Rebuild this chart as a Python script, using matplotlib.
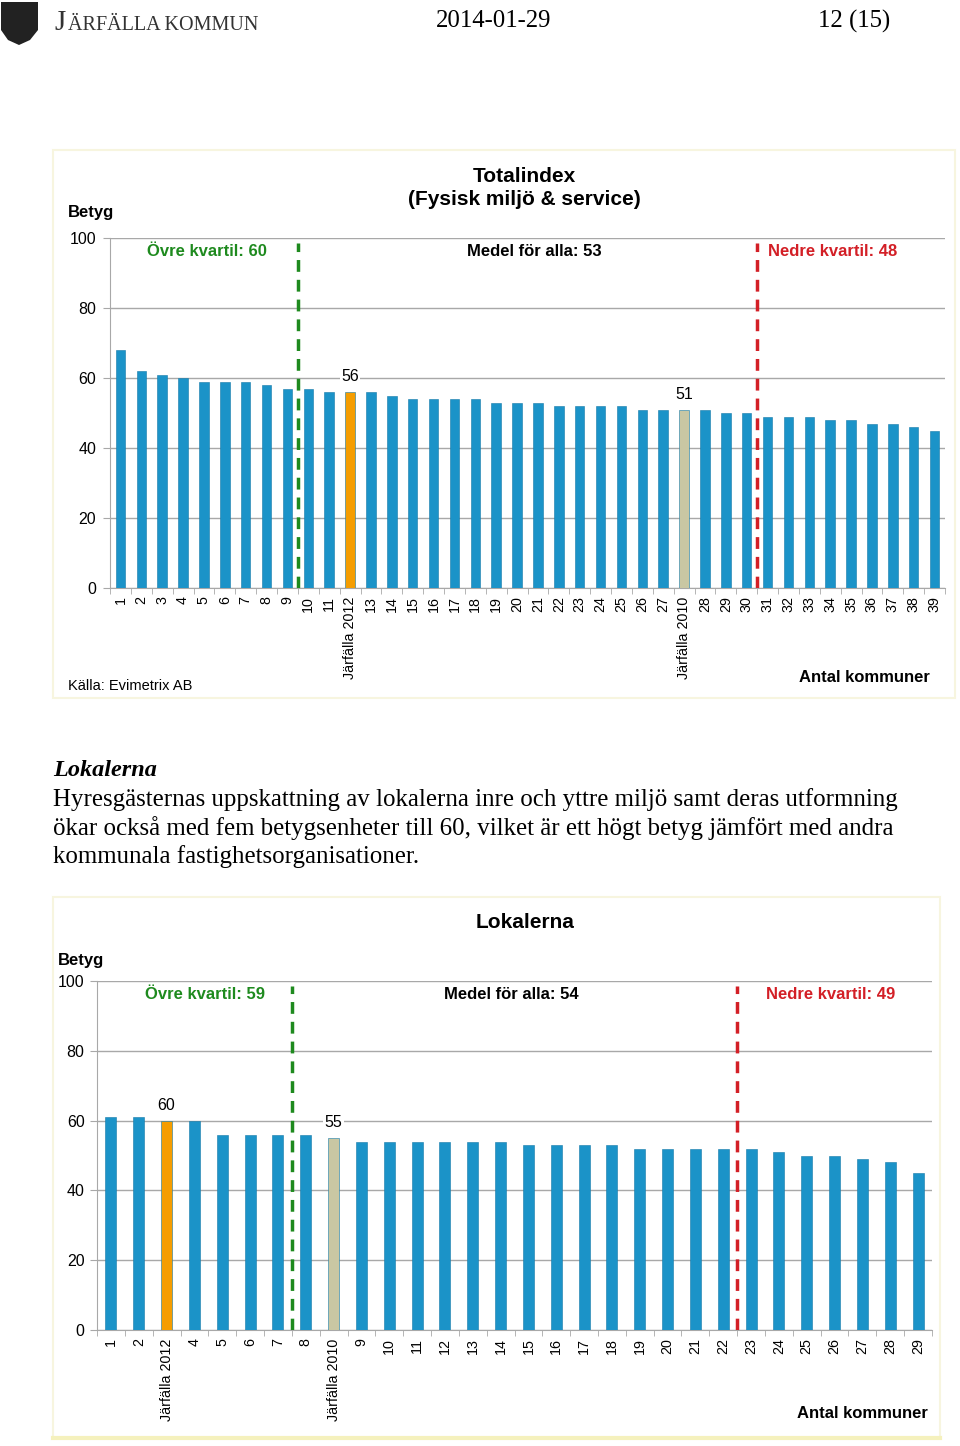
import numpy as np
import matplotlib
matplotlib.use('Agg')
import matplotlib.pyplot as plt
from matplotlib.patches import Rectangle, Polygon

plt.rcParams['font.family'] = ['Liberation Sans', 'DejaVu Sans']

# chart 1: Totalindex
cats1 = ['1', '2', '3', '4', '5', '6', '7', '8', '9', '10', '11', 'Järfälla 2012',
         '13', '14', '15', '16', '17', '18', '19', '20', '21', '22', '23', '24', '25',
         '26', '27', 'Järfälla 2010', '28', '29', '30', '31', '32', '33', '34', '35',
         '36', '37', '38', '39']
vals1 = [68, 62, 61, 60, 59, 59, 59, 58, 57, 57, 56, 56,
         56, 55, 54, 54, 54, 54, 53, 53, 53, 52, 52, 52, 52,
         51, 51, 51, 51, 50, 50, 49, 49, 49, 48, 48,
         47, 47, 46, 45]
quart1 = {'upper': 60, 'mean': 53, 'lower': 48}
split1 = ('9', '30')  # quartile lines drawn after these categories

# chart 2: Lokalerna
cats2 = ['1', '2', 'Järfälla 2012', '4', '5', '6', '7', '8', 'Järfälla 2010', '9',
         '10', '11', '12', '13', '14', '15', '16', '17', '18', '19', '20', '21', '22',
         '23', '24', '25', '26', '27', '28', '29']
vals2 = [61, 61, 60, 60, 56, 56, 56, 56, 55, 54,
         54, 54, 54, 54, 54, 53, 53, 53, 53, 52, 52, 52, 52,
         52, 51, 50, 50, 49, 48, 45]
quart2 = {'upper': 59, 'mean': 54, 'lower': 49}
split2 = ('7', '22')

BLUE = '#1b93c8'
ORANGE = '#f59d00'
KHAKI = '#c9c7a3'
GREEN = '#1e8a1e'
RED = '#d31f26'
GRID = '#a8a8a8'

W, H = 960, 1446
fig = plt.figure(figsize=(W / 100, H / 100), dpi=100)


def fx(px):
    return px / W


def fy(py):
    return 1 - py / H


def draw_chart(rect, cats, vals, quart, split, barw, lab_x, ypad):
    ax = fig.add_axes(rect)
    x = np.arange(len(cats))
    colors = []
    for c in cats:
        if c == 'Järfälla 2012':
            colors.append(ORANGE)
        elif c == 'Järfälla 2010':
            colors.append(KHAKI)
        else:
            colors.append(BLUE)
    ax.bar(x, vals, width=barw, color=colors, edgecolor='#157aa8', linewidth=0.4, zorder=3)
    ax.set_xlim(-0.5, len(cats) - 0.5)
    ax.set_ylim(0, 100)
    ax.set_yticks(range(0, 101, 20))
    ax.grid(axis='y', color=GRID, linewidth=1, zorder=0)
    for s in ['top', 'right']:
        ax.spines[s].set_visible(False)
    ax.spines['left'].set_color(GRID)
    ax.spines['bottom'].set_color(GRID)
    ax.tick_params(axis='y', length=5, color=GRID, labelsize=11.5, pad=ypad)
    ax.set_xticks(x)
    ax.set_xticklabels(cats, rotation=90, fontsize=10.3)
    ax.set_xticks(np.arange(-0.5, len(cats), 1), minor=True)
    ax.tick_params(axis='x', which='major', length=0, pad=6)
    ax.tick_params(axis='x', which='minor', length=4, color=GRID)

    # value labels on the Järfälla bars
    for c, v, xi in zip(cats, vals, x):
        if c.startswith('Järfälla'):
            ax.annotate(str(v), (xi, v), xytext=(0, 11), textcoords='offset points',
                        ha='center', va='center', fontsize=11.5,
                        bbox=dict(facecolor='white', edgecolor='none', pad=1), zorder=4)

    g = cats.index(split[0]) + 0.5
    r = cats.index(split[1]) + 0.5
    ax.plot([g, g], [0, 98.5], color=GREEN, lw=2.5, dashes=(3.4, 2.3), zorder=5)
    ax.plot([r, r], [0, 98.5], color=RED, lw=2.5, dashes=(3.4, 2.3), zorder=5)

    ax.text(lab_x[0], 0.96, 'Övre kvartil: %d' % quart['upper'], transform=ax.transAxes,
            color=GREEN, fontsize=12, fontweight='bold', va='center', ha='left')
    ax.text(lab_x[1], 0.96, 'Medel för alla: %d' % quart['mean'], transform=ax.transAxes,
            color='black', fontsize=12, fontweight='bold', va='center', ha='left')
    ax.text(lab_x[2], 0.96, 'Nedre kvartil: %d' % quart['lower'], transform=ax.transAxes,
            color=RED, fontsize=12, fontweight='bold', va='center', ha='left')
    return ax


# chart frames
fig.add_artist(Rectangle((fx(53), fy(698)), fx(955) - fx(53), fy(150) - fy(698),
                         transform=fig.transFigure, fill=False, edgecolor='#f7f5df', lw=1.5))
fig.add_artist(Rectangle((fx(53), fy(1438)), fx(940) - fx(53), fy(897) - fy(1438),
                         transform=fig.transFigure, fill=False, edgecolor='#f7f5df', lw=1.5))
fig.add_artist(plt.Line2D([fx(53), fx(940)], [fy(1438), fy(1438)], transform=fig.transFigure,
                          color='#f5f1bd', lw=3))

draw_chart([fx(110), fy(588), 835 / W, 350 / H], cats1, vals1, quart1, split1, 0.46,
           (0.044, 0.4275, 0.788), 5)
draw_chart([fx(97), fy(1330), 835 / W, 349 / H], cats2, vals2, quart2, split2, 0.4,
           (0.0575, 0.4156, 0.801), 4)

# chart 1 texts
fig.text(fx(524), fy(188), 'Totalindex\n(Fysisk miljö & service)', ha='center', va='center',
         fontsize=15, fontweight='bold', linespacing=1.3)
fig.text(fx(68), fy(212), 'Betyg', fontsize=12, fontweight='bold', va='center')
fig.text(fx(68), fy(686), 'Källa: Evimetrix AB', fontsize=10.5, va='center')
fig.text(fx(930), fy(678), 'Antal kommuner', fontsize=12, fontweight='bold', va='center', ha='right')

# chart 2 texts
fig.text(fx(525), fy(923), 'Lokalerna', ha='center', va='center', fontsize=15, fontweight='bold')
fig.text(fx(58), fy(961), 'Betyg', fontsize=12, fontweight='bold', va='center')
fig.text(fx(928), fy(1414), 'Antal kommuner', fontsize=12, fontweight='bold', va='center', ha='right')

# page header
serif = ['Liberation Serif', 'DejaVu Serif']
fig.add_artist(Polygon([(fx(1), fy(2)), (fx(38), fy(2)), (fx(38), fy(30)), (fx(30), fy(40)),
                        (fx(19), fy(45)), (fx(8), fy(40)), (fx(1), fy(30))],
                       closed=True, transform=fig.transFigure, facecolor='#222222', edgecolor='none'))
fig.text(fx(54), fy(23), 'J', family=serif, fontsize=21, color='#333333', va='center')
fig.text(fx(68), fy(25), 'ÄRFÄLLA KOMMUN', family=serif, fontsize=14.5, color='#333333', va='center')
fig.text(fx(494), fy(21), '2014-01-29', family=serif, fontsize=17.8, ha='center', va='center')
fig.text(fx(854), fy(21), '12 (15)', family=serif, fontsize=17.8, ha='center', va='center')

# body text
fig.text(fx(53), fy(771), 'Lokalerna', family=serif, fontsize=17.5, fontweight='bold',
         style='italic', va='center')
body = ['Hyresgästernas uppskattning av lokalerna inre och yttre miljö samt deras utformning',
        'ökar också med fem betygsenheter till 60, vilket är ett högt betyg jämfört med andra',
        'kommunala fastighetsorganisationer.']
for i, line in enumerate(body):
    fig.text(fx(53), fy(800 + 28.5 * i), line, family=serif, fontsize=17.9, va='center')

fig.savefig('out.png', dpi=100)
